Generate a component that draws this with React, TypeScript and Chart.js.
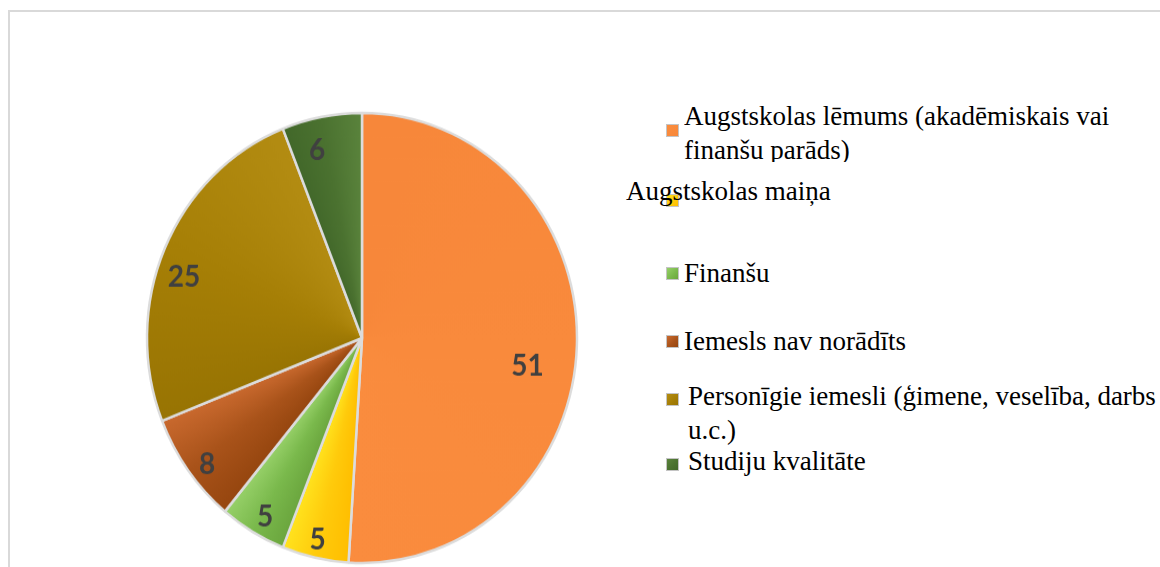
import React, { useEffect, useRef } from "react";
import { Chart, registerables } from "chart.js";

Chart.register(...registerables);

const categories = [
  "Augstskolas lēmums (akadēmiskais vai finanšu parāds)",
  "Augstskolas maiņa",
  "Finanšu",
  "Iemesls nav norādīts",
  "Personīgie iemesli (ģimene, veselība, darbs u.c.)",
  "Studiju kvalitāte",
];
const values = [51, 5, 5, 8, 25, 6];
const legendLines = [
  ["Augstskolas lēmums (akadēmiskais vai", "finanšu parāds)"],
  ["Augstskolas maiņa"],
  ["Finanšu"],
  ["Iemesls nav norādīts"],
  ["Personīgie iemesli (ģimene, veselība, darbs", "u.c.)"],
  ["Studiju kvalitāte"],
];
const colors = ["#F98A3C", "#FFCB0C", "#7AB94C", "#A9531A", "#A67F06", "#4B7230"];
const lightColors = ["#FA8C3E", "#FFE31E", "#96D068", "#C9692E", "#B38C12", "#5A833C"];
const darkColors = ["#F7873A", "#FFBE00", "#6BA63E", "#96460F", "#987403", "#42682A"];
// label placement inside each slice (style only)
const labelRadius = [0.78, 0.92, 0.915, 0.915, 0.87, 0.86];
const labelAngleFrac = [0.54, 0.52, 0.44, 0.43, 0.44, 0.35];

// legend layout (style only)
const legendStyle = [
  { x: 684, baseline: 125, mx: 666, my: 124, clip: 162 },
  { x: 626, baseline: 200, mx: 666, my: 194 },
  { x: 684, baseline: 282, mx: 666, my: 267 },
  { x: 684, baseline: 350, mx: 666, my: 335 },
  { x: 688, baseline: 405, mx: 666, my: 393 },
  { x: 688, baseline: 470, mx: 666, my: 458 },
];

const FONT_SIZE = 27;
const LINE_H = 34;
const SERIF = '"Liberation Serif", "DejaVu Serif", serif';

const labelPlugin = {
  id: "sliceLabels",
  afterDatasetsDraw(chart: any) {
    const ctx = chart.ctx;
    const meta = chart.getDatasetMeta(0);
    meta.data.forEach((arc: any, i: number) => {
      const p = arc.getProps(["x", "y", "startAngle", "endAngle", "outerRadius"], true);
      const ang = p.startAngle + (p.endAngle - p.startAngle) * labelAngleFrac[i];
      const r = p.outerRadius * labelRadius[i];
      ctx.save();
      ctx.font = "bold 28px Lato, 'Open Sans', sans-serif";
      ctx.fillStyle = "#404040";
      ctx.textAlign = "center";
      ctx.textBaseline = "middle";
      ctx.fillText(String(values[i]), p.x + Math.cos(ang) * r, p.y + Math.sin(ang) * r);
      ctx.restore();
    });
  },
};

function sliceFill(c: any) {
  const i = c.dataIndex;
  const chart = c.chart;
  const area = chart.chartArea;
  const g = chart.ctx;
  if (!area || typeof g.createConicGradient !== "function") return colors[i];
  const total = values.reduce((a, b) => a + b, 0);
  let before = 0;
  for (let k = 0; k < i; k++) before += values[k];
  const a0 = -Math.PI / 2 + (before / total) * Math.PI * 2;
  const frac = values[i] / total;
  const cx = (area.left + area.right) / 2;
  const cy = (area.top + area.bottom) / 2;
  const grad = g.createConicGradient(a0, cx, cy);
  grad.addColorStop(0, darkColors[i]);
  grad.addColorStop(frac * 0.5, colors[i]);
  grad.addColorStop(Math.min(frac, 1), lightColors[i]);
  if (frac < 1) grad.addColorStop(Math.min(frac + 0.001, 1), lightColors[i]);
  return grad;
}

export default function App() {
  const ref = useRef<HTMLCanvasElement | null>(null);

  useEffect(() => {
    if (!ref.current) return;
    const chart = new Chart(ref.current, {
      type: "pie",
      data: {
        labels: categories,
        datasets: [
          {
            data: values,
            backgroundColor: sliceFill,
            borderColor: "#dcdcdc",
            borderWidth: 2.5,
          },
        ],
      },
      options: {
        responsive: false,
        maintainAspectRatio: false,
        animation: false,
        radius: 215,
        layout: { padding: 0 },
        plugins: {
          legend: { display: false },
          tooltip: { enabled: false },
        },
      } as any,
      plugins: [labelPlugin],
    });
    return () => chart.destroy();
  }, []);

  return (
    <div
      style={{
        position: "fixed",
        left: 0,
        top: 0,
        width: 1160,
        height: 567,
        overflow: "hidden",
        background: "#fff",
      }}
    >
      <div
        style={{
          position: "absolute",
          left: 8,
          top: 10,
          width: 1300,
          height: 800,
          border: "2px solid #d9d9d9",
        }}
      />
      <canvas
        ref={ref}
        width={480}
        height={480}
        style={{
          position: "absolute",
          left: 122,
          top: 98,
          width: 480,
          height: 480,
          transform: "scaleY(1.047)",
          transformOrigin: "center center",
        }}
      />
      {legendLines.map((lines, i) => {
        const s = legendStyle[i];
        const top = s.baseline - 26;
        return (
          <React.Fragment key={i}>
            <div
              style={{
                position: "absolute",
                left: s.mx,
                top: s.my,
                width: 11,
                height: 11,
                border: "1px solid #c4c4c4",
                background: `linear-gradient(135deg, ${lightColors[i]} 0%, ${colors[i]} 55%, ${darkColors[i]} 100%)`,
              }}
            />
            <div
              style={{
                position: "absolute",
                left: s.x,
                top,
                height: s.clip ? s.clip - top : undefined,
                overflow: s.clip ? "hidden" : "visible",
                fontFamily: SERIF,
                fontSize: FONT_SIZE,
                lineHeight: `${LINE_H}px`,
                color: "#000",
                whiteSpace: "nowrap",
              }}
            >
              {lines.map((t, j) => (
                <div key={j}>{t}</div>
              ))}
            </div>
          </React.Fragment>
        );
      })}
    </div>
  );
}
